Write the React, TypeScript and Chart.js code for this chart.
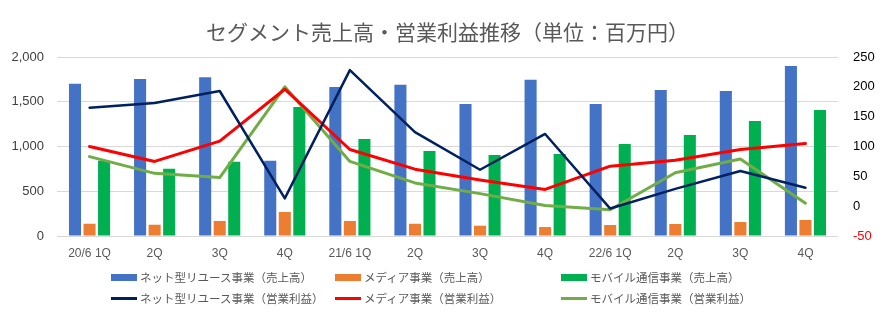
import React, { useEffect, useRef } from "react";
import { Chart, registerables } from "chart.js";

Chart.register(...registerables);

const categories = ["20/6 1Q", "2Q", "3Q", "4Q", "21/6 1Q", "2Q", "3Q", "4Q", "22/6 1Q", "2Q", "3Q", "4Q"];

const reuseSales = [1700, 1755, 1775, 840, 1665, 1690, 1475, 1745, 1475, 1630, 1620, 1900];
const mediaSales = [137, 126, 168, 268, 168, 137, 115, 100, 123, 134, 156, 179];
const mobileSales = [840, 752, 830, 1440, 1084, 950, 905, 916, 1028, 1128, 1285, 1408];

const reuseProfit = [165, 173, 193, 13, 228, 124, 61, 121, -4, 29, 59, 31];
const mediaProfit = [100, 75, 109, 196, 95, 62, 44, 28, 67, 77, 95, 105];
const mobileProfit = [83, 55, 48, 200, 75, 39, 21, 1, -6, 56, 79, 5];

const leftTicks = [0, 500, 1000, 1500, 2000];
const rightTicks = [-50, 0, 50, 100, 150, 200, 250];

const titleText = "セグメント売上高・営業利益推移（単位：百万円）";

const barSeries = [
  { label: "ネット型リユース事業（売上高）", data: reuseSales, color: "#4472C4" },
  { label: "メディア事業（売上高）", data: mediaSales, color: "#ED7D31" },
  { label: "モバイル通信事業（売上高）", data: mobileSales, color: "#00B050" },
];
const lineSeries = [
  { label: "ネット型リユース事業（営業利益）", data: reuseProfit, color: "#002060", width: 2.5 },
  { label: "メディア事業（営業利益）", data: mediaProfit, color: "#FF0000", width: 3 },
  { label: "モバイル通信事業（営業利益）", data: mobileProfit, color: "#70AD47", width: 3 },
];

const JP = '"Noto Sans CJK JP", "Noto Sans", sans-serif';
const NUM = '"Liberation Sans", Arial, sans-serif';

export default function App() {
  const ref = useRef<HTMLCanvasElement | null>(null);

  useEffect(() => {
    if (!ref.current) return;
    const chart = new Chart(ref.current, {
      type: "bar",
      data: {
        labels: categories,
        datasets: [
          ...lineSeries.map((s) => ({
            type: "line" as const,
            label: s.label,
            data: s.data,
            borderColor: s.color,
            backgroundColor: s.color,
            borderWidth: s.width,
            pointRadius: 0,
            tension: 0,
            borderJoinStyle: "round" as const,
            borderCapStyle: "round" as const,
            yAxisID: "y1",
            order: 0,
          })),
          ...barSeries.map((s) => ({
            type: "bar" as const,
            label: s.label,
            data: s.data,
            backgroundColor: s.color,
            borderWidth: 0,
            categoryPercentage: 0.67,
            barPercentage: 0.83,
            yAxisID: "y",
            order: 1,
          })),
        ],
      },
      options: {
        animation: false,
        responsive: false,
        maintainAspectRatio: false,
        layout: { padding: { left: 0, right: 0, top: 0, bottom: 58 } },
        plugins: {
          legend: { display: false },
          tooltip: { enabled: false },
          title: {
            display: true,
            fullSize: false,
            text: titleText,
            color: "#595959",
            font: { family: JP, size: 21, weight: "normal", lineHeight: 1.2 },
            padding: { top: 19, bottom: 12.8 },
          },
        },
        scales: {
          x: {
            grid: { display: false },
            border: { display: false },
            ticks: {
              color: "#595959",
              font: { family: NUM, size: 12 },
              maxRotation: 0,
              autoSkip: false,
              padding: 2,
            },
            afterFit: (s: any) => {
              s.height = 27;
            },
          },
          y: {
            position: "left",
            min: 0,
            max: 2000,
            afterBuildTicks: (s: any) => {
              s.ticks = leftTicks.map((v) => ({ value: v }));
            },
            grid: { color: "#D9D9D9", lineWidth: 1, drawTicks: false },
            border: { display: false },
            ticks: {
              color: "#404040",
              font: { family: NUM, size: 13 },
              padding: 13,
              callback: (v: any) => Number(v).toLocaleString("en-US"),
            },
            afterFit: (s: any) => {
              s.width = 57;
            },
          },
          y1: {
            position: "right",
            min: -50,
            max: 250,
            afterBuildTicks: (s: any) => {
              s.ticks = rightTicks.map((v) => ({ value: v }));
            },
            grid: { display: false, drawTicks: false },
            border: { display: false },
            ticks: {
              color: (ctx: any) => (ctx.tick && ctx.tick.value < 0 ? "#FF0000" : "#000000"),
              font: { family: NUM, size: 13 },
              padding: 15,
            },
            afterFit: (s: any) => {
              s.width = 47;
            },
          },
        },
      },
    });
    return () => chart.destroy();
  }, []);

  const cols = [111, 335, 561];
  const rows = [277, 298];
  const items = [
    ...barSeries.map((s, i) => ({ label: s.label, color: s.color, kind: "bar", col: i, row: 0 })),
    ...lineSeries.map((s, i) => ({ label: s.label, color: s.color, kind: "line", col: i, row: 1 })),
  ];

  return (
    <div style={{ position: "fixed", left: 0, top: 0, width: 885, height: 321, background: "#fff" }}>
      <canvas ref={ref} width={885} height={321} style={{ width: 885, height: 321, display: "block" }} />
      {items.map((it, k) => (
        <div
          key={k}
          style={{
            position: "absolute",
            left: cols[it.col],
            top: rows[it.row] - 9,
            height: 18,
            display: "flex",
            alignItems: "center",
            whiteSpace: "nowrap",
            fontFamily: JP,
            fontSize: 11.5,
            color: "#595959",
          }}
        >
          <span
            style={{
              display: "inline-block",
              width: 26,
              height: it.kind === "bar" ? 7 : 3,
              background: it.color,
              marginRight: 3,
            }}
          />
          <span>{it.label}</span>
        </div>
      ))}
    </div>
  );
}
